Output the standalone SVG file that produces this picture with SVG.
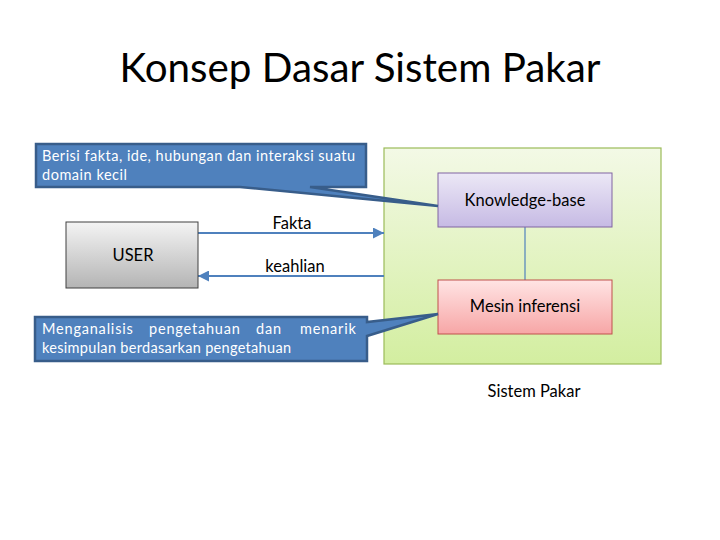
<svg xmlns="http://www.w3.org/2000/svg" width="720" height="540" viewBox="0 0 720 540">
<defs>
<linearGradient id="gGreen" x1="0" y1="0" x2="0" y2="1"><stop offset="0" stop-color="#F3F9E6"/><stop offset="1" stop-color="#D3EEA0"/></linearGradient>
<linearGradient id="gPurple" x1="0" y1="0" x2="0" y2="1"><stop offset="0" stop-color="#ECE8F6"/><stop offset="1" stop-color="#C6BAE4"/></linearGradient>
<linearGradient id="gRed" x1="0" y1="0" x2="0" y2="1"><stop offset="0" stop-color="#FFE4E4"/><stop offset="1" stop-color="#F7A6A6"/></linearGradient>
<linearGradient id="gGray" x1="0" y1="0" x2="0" y2="1"><stop offset="0" stop-color="#F4F4F4"/><stop offset="1" stop-color="#B4B4B4"/></linearGradient>
<marker id="arr" viewBox="0 0 10 10" refX="10" refY="5" markerWidth="11" markerHeight="11" markerUnits="userSpaceOnUse" orient="auto"><path d="M0,0 L10,5 L0,10 Z" fill="#4F81BD"/></marker>
</defs>
<style>
text{font-family:Lato,"Open Sans","Liberation Sans",sans-serif;fill:#000}
.lbl{font-size:16.5px;text-anchor:middle}
.call{font-size:14.5px;fill:#FFFFFF}
.sp{letter-spacing:0.8px}
.callout{fill:#4F81BD;stroke:#385D8A;stroke-width:2.5;stroke-linejoin:miter}
.conn{stroke:#4F81BD;stroke-width:2;fill:none}
</style>
<rect width="720" height="540" fill="#FFFFFF"/>
<text x="360" y="82" font-size="40" text-anchor="middle" textLength="481" lengthAdjust="spacingAndGlyphs">Konsep Dasar Sistem Pakar</text>
<g id="sistem-pakar">
<rect x="384" y="148" width="277" height="216" fill="url(#gGreen)" stroke="#9BBB59" stroke-width="1.2"/>
<text class="lbl" x="534" y="397">Sistem Pakar</text>
</g>
<g id="connectors">
<line x1="525" y1="227" x2="525" y2="280" stroke="#4F81BD" stroke-width="1.2"/>
<line class="conn" x1="198" y1="233" x2="384" y2="233" marker-end="url(#arr)"/>
<line class="conn" x1="384" y1="276" x2="198" y2="276" marker-end="url(#arr)"/>
<text class="lbl" x="292" y="229">Fakta</text>
<text class="lbl" x="295" y="272">keahlian</text>
</g>
<g id="knowledge-base">
<rect x="438" y="173" width="174" height="54" fill="url(#gPurple)" stroke="#8064A2" stroke-width="1"/>
<text class="lbl" x="525" y="206">Knowledge-base</text>
</g>
<g id="mesin-inferensi">
<rect x="438" y="280" width="174" height="54" fill="url(#gRed)" stroke="#C0504D" stroke-width="1"/>
<text class="lbl" x="525" y="312">Mesin inferensi</text>
</g>
<g id="user">
<rect x="66" y="222" width="132" height="66" fill="url(#gGray)" stroke="#404040" stroke-width="1"/>
<text class="lbl" x="133" y="261">USER</text>
</g>
<g id="callout-top">
<path class="callout" d="M36,144 H366 V187 H310 L438,206 L240,187 H36 Z"/>
<text class="call" x="42" y="161" textLength="313" lengthAdjust="spacing">Berisi fakta, ide, hubungan dan interaksi suatu</text>
<text class="call" x="42" y="180" textLength="85" lengthAdjust="spacing">domain kecil</text>
</g>
<g id="callout-bottom">
<path class="callout" d="M35,317 H367 V322 L438,314 L367,336 V361 H35 Z"/>
<text class="call sp" y="334"><tspan x="42">Menganalisis</tspan><tspan x="149">pengetahuan</tspan><tspan x="256">dan</tspan><tspan x="300">menarik</tspan></text>
<text class="call" x="42" y="353" textLength="249" lengthAdjust="spacing">kesimpulan berdasarkan pengetahuan</text>
</g>
</svg>
